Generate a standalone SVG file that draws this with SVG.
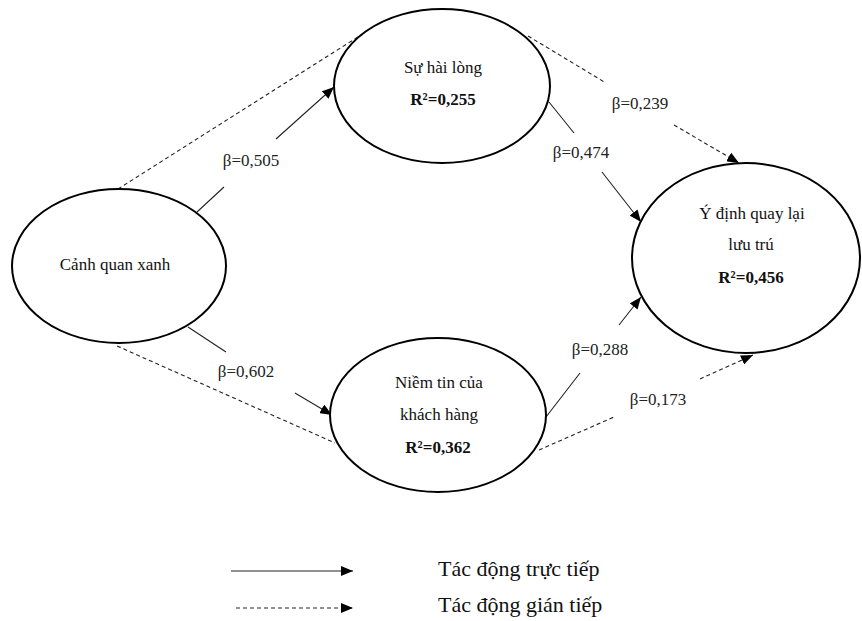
<svg xmlns="http://www.w3.org/2000/svg" width="862" height="621" viewBox="0 0 862 621">
<defs>
<marker id="ah" markerUnits="userSpaceOnUse" markerWidth="12" markerHeight="10" refX="12" refY="5" orient="auto">
<path d="M0,0 L12,5 L0,10 z" fill="#000"/>
</marker>
<style>
.node{fill:#fff;stroke:#000;stroke-width:2}
.t{font-family:"Liberation Serif","Times New Roman",serif;font-size:17px;fill:#111;text-anchor:middle}
.b{font-weight:bold}
.lbl{font-family:"Liberation Serif","Times New Roman",serif;font-size:17px;fill:#222;text-anchor:middle}
.leg{font-family:"Liberation Serif","Times New Roman",serif;font-size:22px;fill:#111}
.solid{fill:none;stroke:#222;stroke-width:1.1}
.dash{fill:none;stroke:#222;stroke-width:1.1;stroke-dasharray:4 3}
</style>
</defs>
<rect width="862" height="621" fill="#fff"/>
<g id="connectors">
<path class="dash" d="M118,189 L372,28"/>
<path class="dash" d="M117,346 L335,443"/>
<path class="solid" d="M197,212 L224,187 M276,139 L334,87" marker-end="url(#ah)"/>
<path class="dash" d="M528,36 L606,83 M674,125 L739,163" marker-end="url(#ah)"/>
<path class="solid" d="M549,102 L574,133 M602,172 L641,222" marker-end="url(#ah)"/>
<path class="solid" d="M188,327 L226,352 M295,393 L332,415" marker-end="url(#ah)"/>
<path class="solid" d="M546,417 L580,373 M619,325 L641,297" marker-end="url(#ah)"/>
<path class="dash" d="M539,450 L614,417 M700,379 L753,355" marker-end="url(#ah)"/>
<text class="lbl" x="251" y="166">β=0,505</text>
<text class="lbl" x="640" y="109">β=0,239</text>
<text class="lbl" x="581" y="158">β=0,474</text>
<text class="lbl" x="246" y="377">β=0,602</text>
<text class="lbl" x="600" y="355">β=0,288</text>
<text class="lbl" x="658" y="405">β=0,173</text>
</g>
<g id="canh-quan-xanh">
<ellipse class="node" cx="119" cy="266" rx="107" ry="77"/>
<text class="t" x="115" y="270">Cảnh quan xanh</text>
</g>
<g id="su-hai-long">
<ellipse class="node" cx="442" cy="86" rx="108" ry="77"/>
<text class="t" x="443" y="73">Sự hài lòng</text>
<text class="t b" x="443" y="105">R²=0,255</text>
</g>
<g id="niem-tin">
<ellipse class="node" cx="438" cy="415" rx="108" ry="77"/>
<text class="t" x="439" y="388">Niềm tin của</text>
<text class="t" x="439" y="420">khách hàng</text>
<text class="t b" x="438" y="453">R²=0,362</text>
</g>
<g id="y-dinh">
<ellipse class="node" cx="746" cy="258" rx="114" ry="95"/>
<text class="t" x="752" y="219">Ý định quay lại</text>
<text class="t" x="751" y="250">lưu trú</text>
<text class="t b" x="751" y="283">R²=0,456</text>
</g>
<g id="legend">
<path class="solid" d="M231,571 L353,571" marker-end="url(#ah)"/>
<path class="dash" d="M236,608 L353,608" marker-end="url(#ah)"/>
<text class="leg" x="438" y="576">Tác động trực tiếp</text>
<text class="leg" x="438" y="612">Tác động gián tiếp</text>
</g>
</svg>
